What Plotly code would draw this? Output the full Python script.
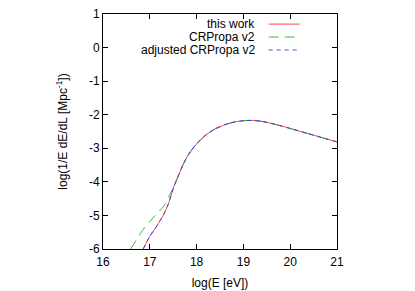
import plotly.graph_objects as go

# Data
x_red = [16.86, 17.0, 17.1, 17.2, 17.3, 17.4, 17.5, 17.6, 17.7, 17.8, 17.9, 18.0,
         18.2, 18.4, 18.6, 18.8, 19.0, 19.2, 19.4, 19.6, 19.8, 20.0, 20.2, 20.4,
         20.6, 20.8, 21.0]
y_red = [-6.0, -5.62, -5.42, -5.2, -4.96, -4.64, -4.2, -3.85, -3.52, -3.25, -3.04, -2.87,
         -2.6, -2.42, -2.3, -2.22, -2.18, -2.17, -2.2, -2.26, -2.33, -2.41, -2.49, -2.57,
         -2.65, -2.73, -2.81]

x_green_low = [16.59, 16.7, 16.8, 16.9, 17.0, 17.1, 17.2, 17.3, 17.4]
y_green_low = [-6.0, -5.76, -5.54, -5.34, -5.18, -5.03, -4.88, -4.72, -4.45]

x_green = x_green_low + x_red[6:]
y_green = y_green_low + y_red[6:]

x_blue = list(x_red)
y_blue = list(y_red)

x_ticks = [16, 17, 18, 19, 20, 21]
x_ticklabels = ["16", "17", "18", "19", "20", "21"]
y_ticks = [-6, -5, -4, -3, -2, -1, 0, 1]
y_ticklabels = ["-6", "-5", "-4", "-3", "-2", "-1", "0", "1"]

series_names = ["this work", "CRPropa v2", "adjusted CRPropa v2"]
colors = ["#ff3030", "#20b020", "#3030ff"]
dashes = ["solid", "10px,6px", "4px,4px"]

FONT = "Liberation Sans, Arial, sans-serif"

fig = go.Figure()
for (xs, ys), name, c, d in zip([(x_red, y_red), (x_green, y_green), (x_blue, y_blue)],
                                series_names, colors, dashes):
    fig.add_trace(go.Scatter(x=xs, y=ys, mode="lines", name=name, showlegend=False,
                             line=dict(color=c, width=0.9, dash=d, shape="spline", smoothing=0.8)))

# gnuplot-style legend: text right-aligned, sample line to the right
row_y = [0.957, 0.902, 0.847]
shapes = []
annotations = []
for name, c, d, yy in zip(series_names, colors, dashes, row_y):
    annotations.append(dict(x=0.658, y=yy, xref="paper", yref="paper", text=name,
                            showarrow=False, xanchor="right", yanchor="middle",
                            font=dict(family=FONT, size=12, color="black")))
    shapes.append(dict(type="line", xref="paper", yref="paper", x0=0.708, x1=0.84,
                       y0=yy, y1=yy, line=dict(color=c, width=0.9, dash=d)))

axis_common = dict(showgrid=False, zeroline=False, showline=True, linecolor="black",
                   linewidth=1, mirror="ticks", ticks="inside", ticklen=5,
                   tickcolor="black", tickwidth=1, automargin=False,
                   ticklabeloverflow="allow",
                   tickfont=dict(family=FONT, size=12, color="black"))

# margins compensate for the 8px default body margin of the html page
fig.update_layout(
    width=415, height=291,
    margin=dict(l=95, r=86, t=6, b=50),
    paper_bgcolor="white", plot_bgcolor="white",
    xaxis=dict(range=[16, 21], tickvals=x_ticks, ticktext=x_ticklabels,
               ticklabelstandoff=2,
               title=dict(text="log(E [eV])", font=dict(family=FONT, size=12, color="black"),
                          standoff=10),
               **axis_common),
    yaxis=dict(range=[-6, 1], tickvals=y_ticks, ticktext=y_ticklabels,
               title=dict(text="log(1/E dE/dL [Mpc<sup>-1</sup>])",
                          font=dict(family=FONT, size=12, color="black"), standoff=18),
               **axis_common),
    shapes=shapes,
    annotations=annotations,
    showlegend=False,
)

fig.write_html("out.html")
